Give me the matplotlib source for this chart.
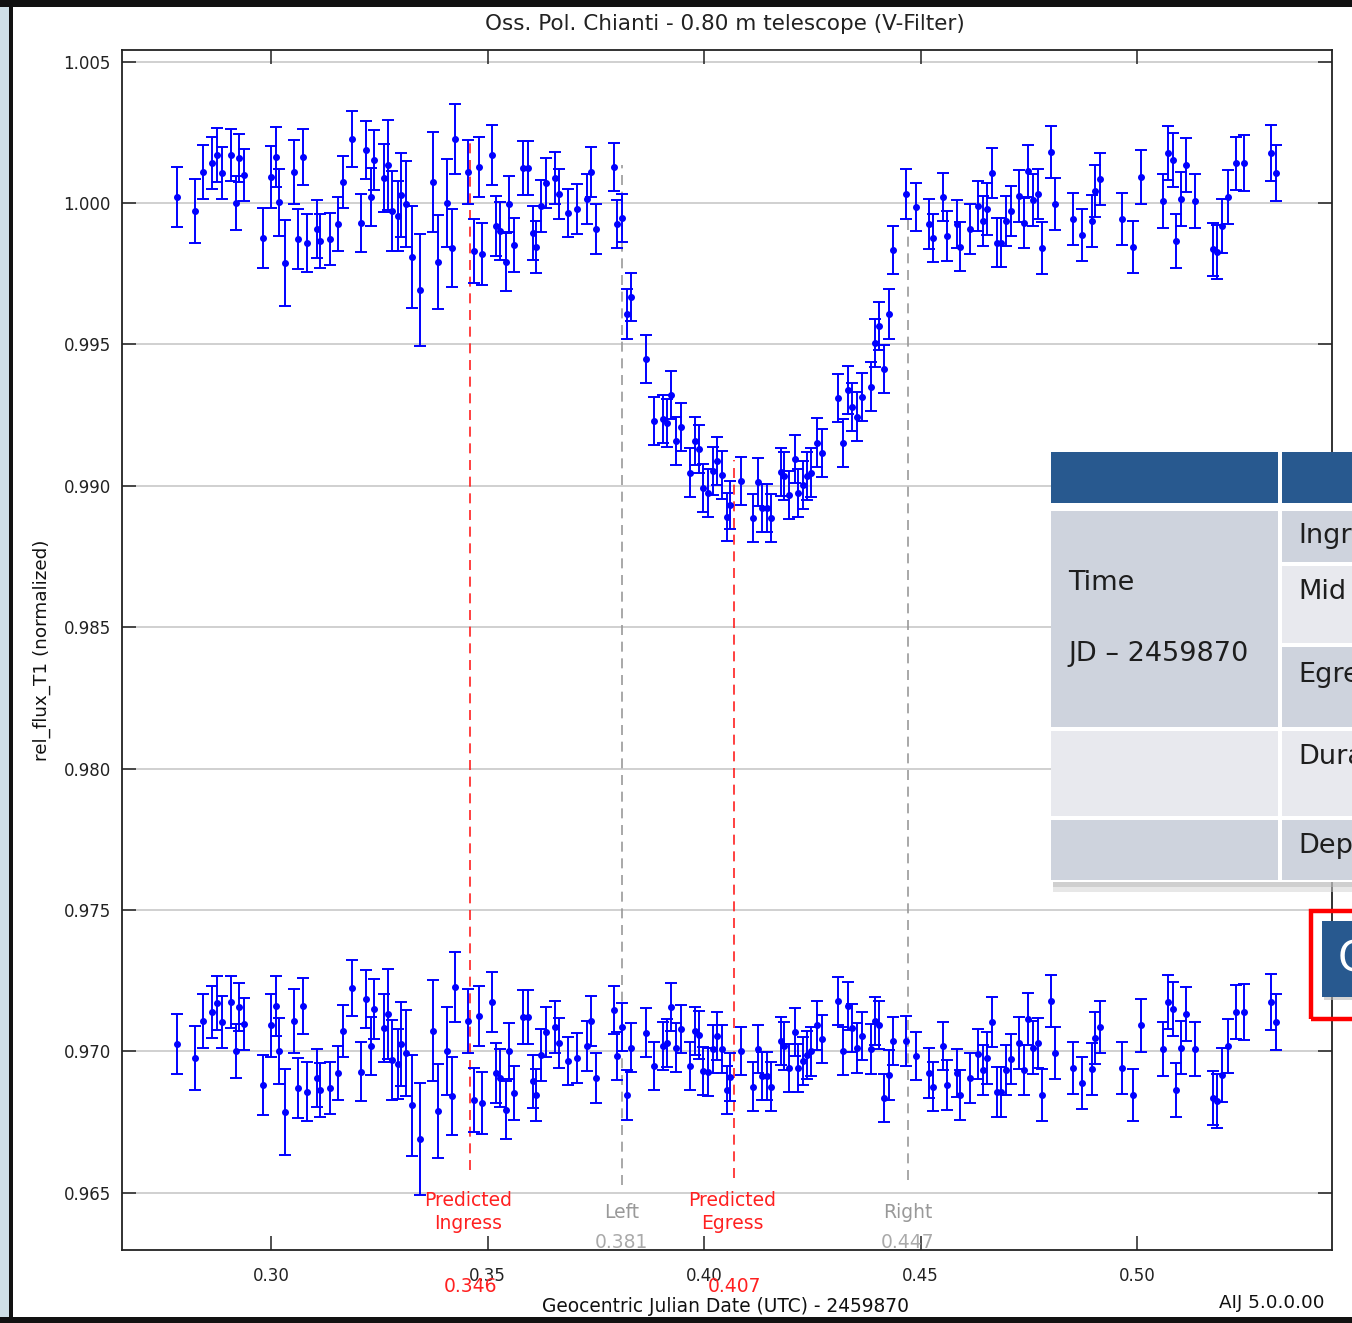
import matplotlib.pyplot as plt
from matplotlib.patches import Rectangle
from matplotlib.ticker import FormatStrFormatter

# Geocentric Julian Date (UTC) - 2459870
gjd = [
    0.2782, 0.2824, 0.2844, 0.2863, 0.2875, 0.2886, 0.2907, 0.2919, 0.2926, 0.2938,
    0.2981, 0.3000, 0.3012, 0.3019, 0.3032, 0.3052, 0.3063, 0.3075, 0.3082, 0.3106,
    0.3113, 0.3136, 0.3155, 0.3167, 0.3186, 0.3207, 0.3219, 0.3230, 0.3238, 0.3261,
    0.3270, 0.3280, 0.3294, 0.3300, 0.3312, 0.3325, 0.3344, 0.3375, 0.3386, 0.3406,
    0.3417, 0.3425, 0.3456, 0.3469, 0.3480, 0.3488, 0.3511, 0.3519, 0.3530, 0.3543,
    0.3550, 0.3562, 0.3581, 0.3593, 0.3604, 0.3612, 0.3624, 0.3635, 0.3656, 0.3666,
    0.3687, 0.3706, 0.3729, 0.3738, 0.3750, 0.3792, 0.3800, 0.3811, 0.3823, 0.3831,
    0.3866, 0.3885, 0.3905, 0.3915, 0.3923, 0.3935, 0.3946, 0.3968, 0.3979, 0.3989,
    0.3998, 0.4010, 0.4021, 0.4029, 0.4041, 0.4052, 0.4060, 0.4085, 0.4114, 0.4124,
    0.4133, 0.4145, 0.4155, 0.4177, 0.4185, 0.4197, 0.4209, 0.4216, 0.4228, 0.4237,
    0.4247, 0.4260, 0.4272, 0.4310, 0.4322, 0.4333, 0.4341, 0.4353, 0.4366, 0.4385,
    0.4395, 0.4403, 0.4416, 0.4428, 0.4437, 0.4466, 0.4490, 0.4520, 0.4528, 0.4551,
    0.4561, 0.4584, 0.4591, 0.4614, 0.4633, 0.4645, 0.4654, 0.4666, 0.4676, 0.4685,
    0.4697, 0.4708, 0.4728, 0.4740, 0.4748, 0.4759, 0.4771, 0.4780, 0.4801, 0.4811,
    0.4853, 0.4872, 0.4895, 0.4903, 0.4915, 0.4966, 0.4990, 0.5009, 0.5059, 0.5071,
    0.5082, 0.5090, 0.5102, 0.5113, 0.5134, 0.5175, 0.5184, 0.5196, 0.5209, 0.5228,
    0.5247, 0.5309, 0.5321]

# rel_flux_T1 (normalized)
flux = [
    1.00020, 0.99972, 1.00110, 1.00140, 1.00170, 1.00105, 1.00170, 1.00001, 1.00158, 1.00098,
    0.99877, 1.00091, 1.00164, 1.00002, 0.99787, 1.00110, 0.99872, 1.00164, 0.99858, 0.99907,
    0.99866, 0.99872, 0.99925, 1.00073, 1.00225, 0.99930, 1.00187, 1.00020, 1.00152, 1.00087,
    1.00134, 0.99972, 0.99955, 1.00028, 0.99995, 0.99810, 0.99691, 1.00073, 0.99792, 1.00001,
    0.99842, 1.00225, 1.00111, 0.99830, 1.00128, 0.99819, 1.00170, 0.99919, 0.99901, 0.99792,
    0.99995, 0.99852, 1.00123, 1.00123, 0.99895, 0.99846, 0.99989, 1.00070, 1.00087, 1.00032,
    0.99966, 0.99978, 1.00013, 1.00109, 0.99907, 1.00128, 0.99925, 0.99948, 0.99608, 0.99669,
    0.99447, 0.99230, 0.99236, 0.99221, 0.99321, 0.99160, 0.99207, 0.99047, 0.99160, 0.99129,
    0.98991, 0.98974, 0.99054, 0.99089, 0.99038, 0.98891, 0.98932, 0.99017, 0.98885, 0.99015,
    0.98922, 0.98921, 0.98885, 0.99050, 0.99035, 0.98968, 0.99094, 0.98976, 0.99003, 0.99035,
    0.99047, 0.99153, 0.99117, 0.99310, 0.99153, 0.99339, 0.99278, 0.99245, 0.99315, 0.99351,
    0.99506, 0.99565, 0.99412, 0.99608, 0.99834, 1.00032, 0.99985, 0.99925, 0.99875, 1.00020,
    0.99883, 0.99925, 0.99846, 0.99907, 0.99990, 0.99936, 0.99978, 1.00105, 0.99860, 0.99860,
    0.99936, 0.99973, 1.00026, 0.99930, 1.00114, 1.00011, 1.00032, 0.99840, 1.00181, 0.99995,
    0.99942, 0.99887, 0.99936, 1.00043, 1.00085, 0.99942, 0.99846, 1.00093, 1.00008, 1.00176,
    1.00152, 0.99866, 1.00014, 1.00134, 1.00008, 0.99836, 0.99828, 0.99919, 1.00020, 1.00140,
    1.00140, 1.00176, 1.00105]

# residuals, shifted to 0.970
resid = [
    0.97026, 0.96978, 0.97109, 0.97139, 0.97171, 0.97104, 0.97176, 0.97002, 0.97157, 0.97098,
    0.96882, 0.97092, 0.97162, 0.97002, 0.96785, 0.97109, 0.96870, 0.97162, 0.96858, 0.96906,
    0.96864, 0.96870, 0.96923, 0.97074, 0.97224, 0.96929, 0.97186, 0.97020, 0.97151, 0.97084,
    0.97133, 0.96970, 0.96955, 0.97026, 0.96996, 0.96809, 0.96690, 0.97074, 0.96791, 0.97002,
    0.96841, 0.97229, 0.97109, 0.96829, 0.97127, 0.96817, 0.97174, 0.96923, 0.96906, 0.96794,
    0.97002, 0.96853, 0.97121, 0.97121, 0.96894, 0.96847, 0.96988, 0.97068, 0.97086, 0.97031,
    0.96967, 0.96978, 0.97020, 0.97109, 0.96906, 0.97145, 0.96984, 0.97086, 0.96847, 0.97014,
    0.97067, 0.96947, 0.97020, 0.97031, 0.97157, 0.97014, 0.97080, 0.96949, 0.97073, 0.97059,
    0.96931, 0.96927, 0.97008, 0.97056, 0.97008, 0.96864, 0.96911, 0.97002, 0.96876, 0.97008,
    0.96914, 0.96914, 0.96876, 0.97037, 0.97020, 0.96941, 0.97068, 0.96943, 0.96967, 0.96986,
    0.97000, 0.97092, 0.97045, 0.97180, 0.97002, 0.97162, 0.97084, 0.97012, 0.97055, 0.97008,
    0.97109, 0.97092, 0.96835, 0.96917, 0.97037, 0.97037, 0.96984, 0.96923, 0.96876, 0.97020,
    0.96882, 0.96923, 0.96847, 0.96906, 0.96990, 0.96935, 0.96978, 0.97104, 0.96858, 0.96858,
    0.96935, 0.96973, 0.97031, 0.96935, 0.97115, 0.97014, 0.97031, 0.96847, 0.97180, 0.96994,
    0.96943, 0.96888, 0.96937, 0.97049, 0.97086, 0.96943, 0.96847, 0.97092, 0.97008, 0.97174,
    0.97151, 0.96864, 0.97014, 0.97133, 0.97008, 0.96835, 0.96826, 0.96917, 0.97020, 0.97139,
    0.97139, 0.97174, 0.97104]

err = [
    0.00106, 0.00113, 0.00095, 0.00092, 0.00095, 0.00092, 0.00092, 0.00095, 0.00085, 0.00092,
    0.00106, 0.00110, 0.00106, 0.00117, 0.00152, 0.00113, 0.00106, 0.00099, 0.00103, 0.00103,
    0.00095, 0.00092, 0.00095, 0.00092, 0.00099, 0.00103, 0.00103, 0.00103, 0.00106, 0.00120,
    0.00159, 0.00141, 0.00124, 0.00148, 0.00152, 0.00180, 0.00198, 0.00177, 0.00166, 0.00156,
    0.00138, 0.00124, 0.00113, 0.00113, 0.00106, 0.00110, 0.00106, 0.00106, 0.00103, 0.00103,
    0.00099, 0.00095, 0.00095, 0.00095, 0.00095, 0.00092, 0.00092, 0.00088, 0.00092, 0.00088,
    0.00085, 0.00088, 0.00088, 0.00088, 0.00088, 0.00085, 0.00085, 0.00085, 0.00088, 0.00085,
    0.00085, 0.00085, 0.00085, 0.00085, 0.00085, 0.00085, 0.00085, 0.00085, 0.00085, 0.00085,
    0.00085, 0.00085, 0.00085, 0.00085, 0.00085, 0.00085, 0.00085, 0.00085, 0.00085, 0.00085,
    0.00085, 0.00085, 0.00085, 0.00085, 0.00085, 0.00085, 0.00085, 0.00085, 0.00085, 0.00085,
    0.00085, 0.00088, 0.00085, 0.00085, 0.00085, 0.00085, 0.00085, 0.00088, 0.00085, 0.00088,
    0.00085, 0.00085, 0.00085, 0.00088, 0.00085, 0.00088, 0.00085, 0.00088, 0.00085, 0.00085,
    0.00088, 0.00085, 0.00088, 0.00088, 0.00088, 0.00088, 0.00092, 0.00088, 0.00088, 0.00088,
    0.00088, 0.00088, 0.00092, 0.00088, 0.00092, 0.00092, 0.00088, 0.00092, 0.00092, 0.00092,
    0.00092, 0.00092, 0.00092, 0.00092, 0.00092, 0.00092, 0.00092, 0.00095, 0.00095, 0.00095,
    0.00095, 0.00095, 0.00095, 0.00095, 0.00095, 0.00095, 0.00095, 0.00095, 0.00095, 0.00095,
    0.00099, 0.00099, 0.00099]

# markers: predicted ingress/egress (red), fit left/right (gray)
pred_x = [0.346, 0.407]
pred_span = [(0.96581, 1.00223), (0.96553, 0.99091)]
pred_lbl = ['Predicted\nIngress', 'Predicted\nEgress']
pred_val = ['0.346', '0.407']
edge_x = [0.381, 0.447]
edge_span = [(0.96528, 1.00134), (0.96546, 0.99958)]
edge_lbl = ['Left', 'Right']
edge_val = ['0.381', '0.447']

yticks = [0.965, 0.970, 0.975, 0.980, 0.985, 0.990, 0.995, 1.000, 1.005]
xticks = [0.30, 0.35, 0.40, 0.45, 0.50]

W, H = 1352, 1323
fig = plt.figure(figsize=(W / 100, H / 100), dpi=100)


def box(x0, y0, x1, y1, z=5, **kw):
    # rectangle given in pixel coords (top-left origin)
    r = Rectangle((x0 / W, 1 - y1 / H), (x1 - x0) / W, (y1 - y0) / H,
                  transform=fig.transFigure, zorder=z, **kw)
    fig.add_artist(r)


def ftext(px, py, s, z=6, **kw):
    fig.text(px / W, 1 - py / H, s, zorder=z, **kw)


ax = fig.add_axes([122 / W, 1 - 1250 / H, 1210 / W, 1200 / H])
ax.set_xlim(0.26559, 0.54503)
ax.set_ylim(0.96298, 1.00541)

for y in yticks:
    ax.axhline(y, color='#c8c8c8', lw=1.2, zorder=1)

kw = dict(fmt='o', color='#0000ff', ms=4, elinewidth=1.4, capsize=4.5,
          capthick=1.4, zorder=3)
ax.errorbar(gjd, flux, yerr=err, **kw)
ax.errorbar(gjd, resid, yerr=err, **kw)

for x, (y0, y1), lab, val in zip(pred_x, pred_span, pred_lbl, pred_val):
    ax.plot([x, x], [y0, y1], color='#ff2020', lw=1.2, ls=(0, (6, 4)), zorder=2)
    ax.text(x - 0.0005, 0.96432, lab, color='#ff2020', ha='center', va='center',
            fontsize=13.5, linespacing=1.3)
    ax.text(x, 0.96168, val, color='#ff2020', ha='center', va='center',
            fontsize=13.5, clip_on=False)
for x, (y0, y1), lab, val in zip(edge_x, edge_span, edge_lbl, edge_val):
    ax.plot([x, x], [y0, y1], color='#999999', lw=1.2, ls=(0, (6, 4)), zorder=2)
    ax.text(x, 0.96432, lab, color='#999999', ha='center', va='center', fontsize=13.5)
    ax.text(x, 0.96323, val, color='#aaaaaa', ha='center', va='center', fontsize=13.5)

ax.set_xticks(xticks)
ax.set_yticks(yticks)
ax.xaxis.set_major_formatter(FormatStrFormatter('%.2f'))
ax.yaxis.set_major_formatter(FormatStrFormatter('%.3f'))
ax.tick_params(axis='both', direction='in', length=10, width=1.1, top=True,
               right=True, labelsize=12, colors='#222222')
ax.tick_params(axis='y', pad=8)
ax.tick_params(axis='x', pad=12)
for s in ax.spines.values():
    s.set_linewidth(1.3)
    s.set_color('#222222')

ftext(725, 24, 'Oss. Pol. Chianti - 0.80 m telescope (V-Filter)', ha='center',
      va='center', fontsize=15.5, color='#222222')
ftext(725, 1306, 'Geocentric Julian Date (UTC) - 2459870', ha='center',
      va='center', fontsize=13.4, color='#111111')
ftext(42, 650, 'rel_flux_T1 (normalized)', rotation=90, ha='center',
      va='center', fontsize=13.2, color='#111111')
ftext(1272, 1303, 'AIJ 5.0.0.00', ha='center', va='center', fontsize=13.2,
      color='#111111')

# screenshot frame
box(0, 0, 9, H, z=4, color='#cfdfe7', lw=0)
box(0, 0, W, 7, z=4, color='#111111', lw=0)
box(9, 0, 13, H, z=4, color='#111111', lw=0)
box(0, 1317, W, H, z=4, color='#111111', lw=0)

# overlaid table
dark, mid, light = '#28598f', '#ced3dd', '#e8e9ee'
box(1053, 882, W, 892, z=5, color='#d0d0d0', lw=0, alpha=0.5)
box(1053, 882, W, 887, z=5, color='#b8b8b8', lw=0, alpha=0.5)
box(1051, 452, W, 882, z=5, color='white', lw=0)
box(1051, 452, 1278, 503, color=dark, lw=0)
box(1282, 452, W, 503, color=dark, lw=0)
box(1051, 511, 1278, 727, color=mid, lw=0)
box(1282, 511, W, 562, color=mid, lw=0)
box(1282, 566, W, 643, color=light, lw=0)
box(1282, 647, W, 727, color=mid, lw=0)
box(1051, 731, 1278, 816, color=light, lw=0)
box(1282, 731, W, 816, color=light, lw=0)
box(1051, 820, 1278, 880, color=mid, lw=0)
box(1282, 820, W, 880, color=mid, lw=0)
tk = dict(fontsize=19.5, color='#1e1e1e', va='center', ha='left')
ftext(1068, 583, 'Time', **tk)
ftext(1068, 654, 'JD \u2013 2459870', **tk)
ftext(1298, 536, 'Ingress', **tk)
ftext(1298, 592, 'Mid', **tk)
ftext(1298, 675, 'Egress', **tk)
ftext(1298, 757, 'Duration', **tk)
ftext(1298, 846, 'Depth', **tk)

# highlighted button at the right edge
box(1324, 924, W, 1000, color='#b8b8b8', lw=0, alpha=0.6)
box(1322, 921, W, 997, color=dark, lw=0)
ftext(1338, 959, 'C', fontsize=30, color='white', va='center', ha='left')
box(1311, 911, W + 10, 1019, z=7, fill=False, edgecolor='#ff0000', lw=3.2)

fig.savefig('out.png', dpi=100)
